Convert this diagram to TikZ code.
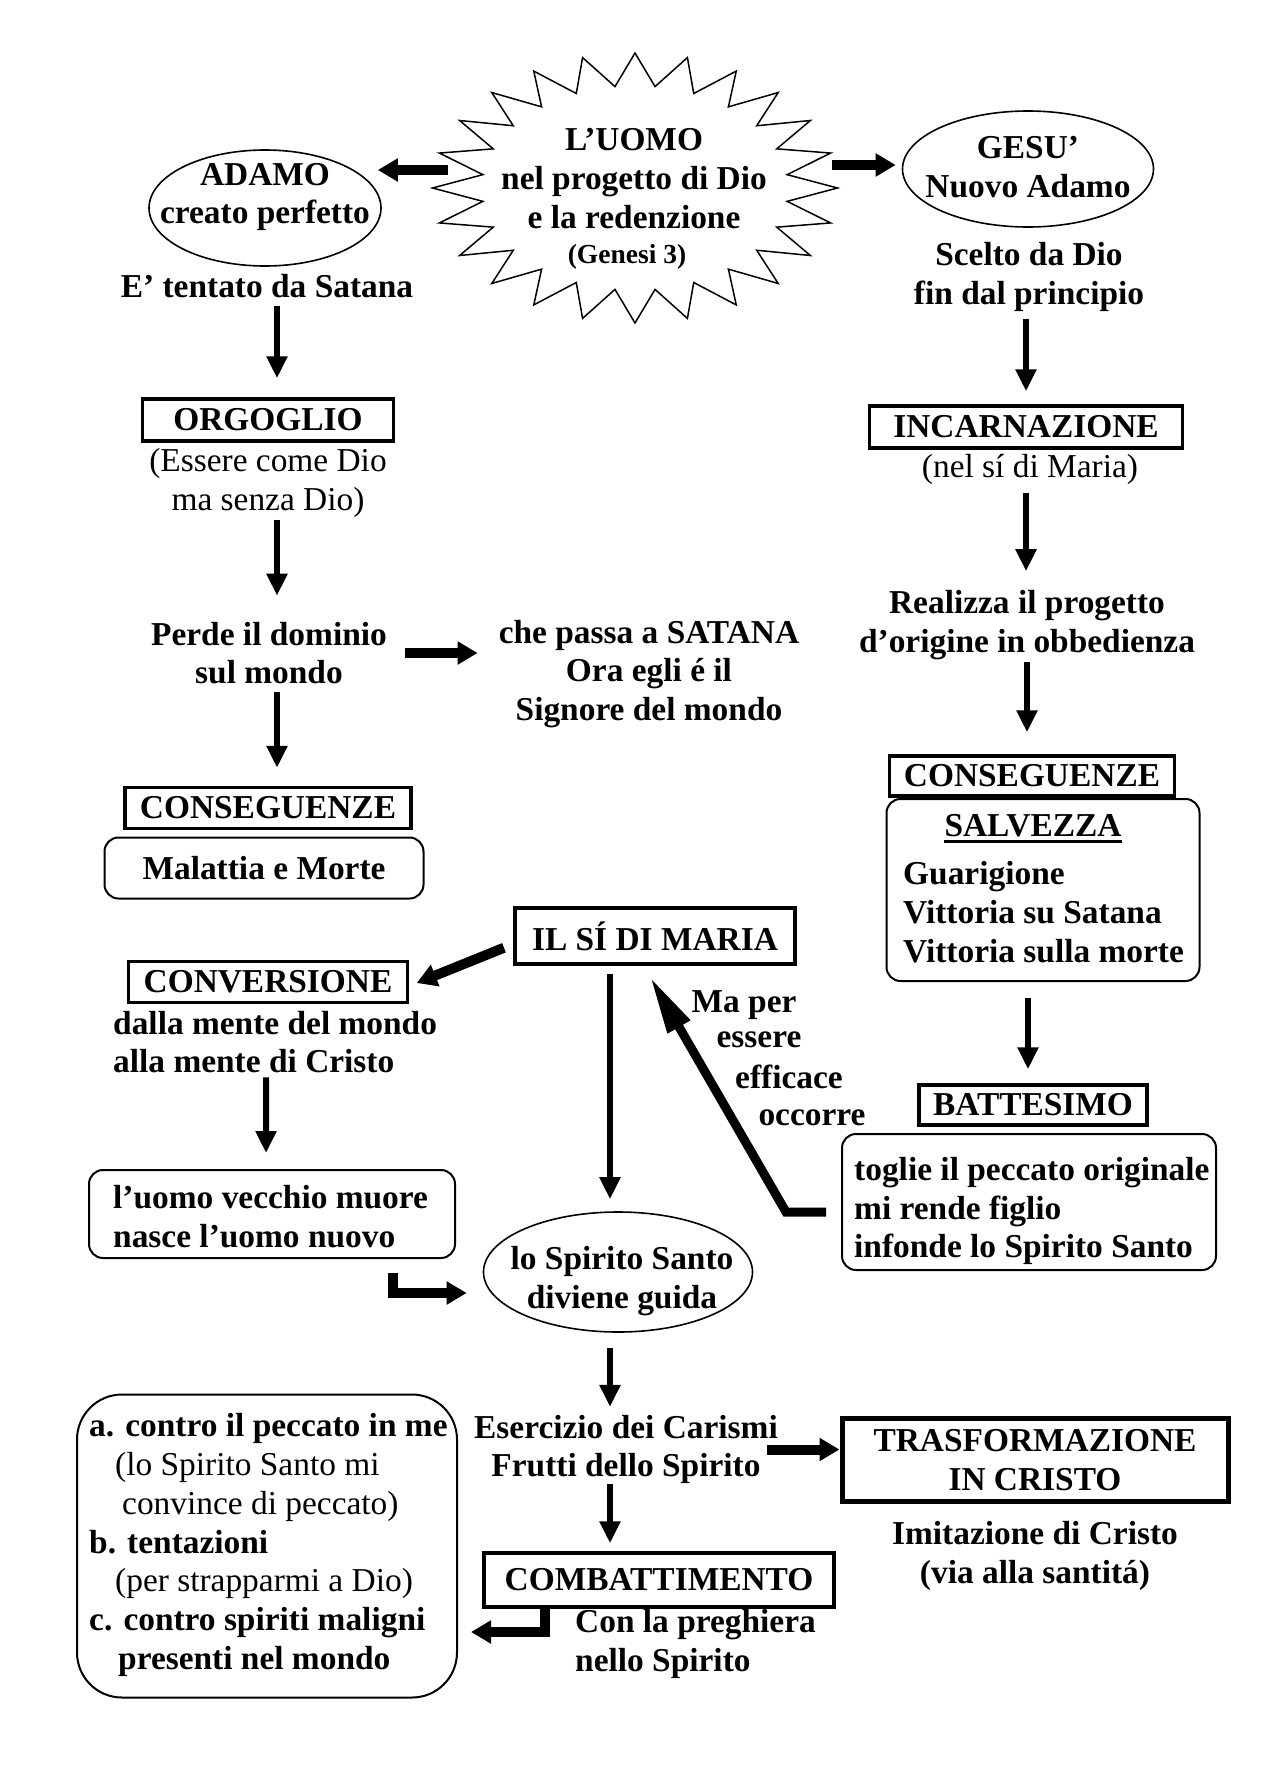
\documentclass[tikz,border=0pt]{standalone}
\usepackage{fontspec}
\setmainfont{Liberation Serif}
\usetikzlibrary{shapes.geometric, arrows.meta}

\begin{document}
\begin{tikzpicture}[x=1pt,y=-1pt,
	every node/.style={font=\fontsize{33.4}{38.7}\selectfont\bfseries, inner sep=0pt},
	reg/.style={font=\fontsize{33.4}{38.7}\selectfont},
	testo/.style={align=center},
	box/.style={draw, line width=3.5pt},
	rbox/.style={draw, line width=2pt, rounded corners=14pt},
	ell/.style={draw, ellipse, line width=1.6pt},
	arr/.style={line width=6pt, -{Triangle[width=20pt,length=22pt]}},
	fat/.style={line width=10pt, -{Triangle[width=22pt,length=20pt]}},
	bent/.style={line width=10pt, line join=miter, -{Triangle[width=22pt,length=20pt]}},
	maarr/.style={line width=9pt, line join=miter, -{Triangle[width=24pt,length=58pt]}}]
		\useasboundingbox (0,0) rectangle (1275,1775);
		\begin{scope}[shift={(635,188)}, xscale=1.5]
			\node[draw, star, star points=24, star point ratio=1.32, minimum size=270pt, line width=1.5pt, transform shape] (stella) at (0,0) {}; %星
		\end{scope}
		\node[testo] (uomo) at (634,178.5) {L’UOMO\\nel progetto di Dio\\e la redenzione};
		\node[font=\fontsize{27.5}{30}\selectfont\bfseries] (genesi) at (627,257) {(Genesi 3)};
		% sinistra
		\node[ell, minimum width=232pt, minimum height=116pt] (adamo) at (265,208) {};
		\node[testo] (adamot) at (265,197) {ADAMO\\creato perfetto};
		\node (tentato) at (267,286) {E’ tentato da Satana};
		\node[box, minimum width=251pt, minimum height=42pt] (orgoglio) at (268,420) {ORGOGLIO};
		\node[testo, reg] (essere) at (268,483) {(Essere come Dio\\ma senza Dio)};
		\node[testo] (perde) at (269,653) {Perde il dominio\\sul mondo};
		\node[testo] (satana) at (649,674) {che passa a SATANA\\Ora egli é il\\Signore del mondo};
		\node[box, minimum width=286pt, minimum height=41pt] (conseguL) at (268,808) {CONSEGUENZE};
		\node[rbox, minimum width=319pt, minimum height=61pt] (malattia) at (264,868) {Malattia e Morte};
		% destra
		\node[ell, minimum width=251pt, minimum height=116pt] (gesu) at (1028,169) {};
		\node[testo] (gesut) at (1028,167) {GESU’\\Nuovo Adamo};
		\node[testo] (scelto) at (1029,277) {Scelto da Dio\\fin dal principio};
		\node[box, minimum width=313pt, minimum height=42pt] (incarn) at (1026,427) {INCARNAZIONE};
		\node[reg] (nelsi) at (1030,469) {(nel sí di Maria)};
		\node[testo] (realizza) at (1027,625) {Realizza il progetto\\d’origine in obbedienza};
		\node[box, minimum width=285pt, minimum height=40pt] (conseguR) at (1032,776) {CONSEGUENZE};
		\node[rbox, minimum width=313pt, minimum height=182pt] (salvezza) at (1043,890) {};
		\node (salv) at (1033,826) {SALVEZZA};
		\draw[line width=3pt] ([yshift=-4pt]salv.south west) -- ([yshift=-4pt]salv.south east);
		\node[align=left, anchor=west] (salvlist) at (903,912) {Guarigione\\Vittoria su Satana\\Vittoria sulla morte};
		\node[box, minimum width=228pt, minimum height=40pt] (batt) at (1033,1105) {BATTESIMO};
		\node[rbox, minimum width=374pt, minimum height=136pt] (togli) at (1029,1202) {};
		\node[align=left, anchor=west] (toglit) at (854,1211) {toglie il peccato originale\\mi rende figlio\\infonde lo Spirito Santo};
		% centro
		\node[box, minimum width=280pt, minimum height=56pt] (ilsi) at (655,936) {IL SÍ DI MARIA};
		\node[box, minimum width=279pt, minimum height=41pt] (conv) at (268,982) {CONVERSIONE};
		\node[align=left, anchor=west] (dalla) at (113,1042) {dalla mente del mondo\\alla mente di Cristo};
		\node[rbox, minimum width=366pt, minimum height=88pt] (vecchio) at (272,1214) {};
		\node[align=left, anchor=west] (vecchiot) at (113,1216.5) {l’uomo vecchio muore\\nasce l’uomo nuovo};
		\node (maper) at (744,1005) {Ma per};
		\node (maess) at (759,1040) {essere};
		\node (maeff) at (789,1077) {efficace};
		\node (maocc) at (812,1118) {occorre};
		\node[ell, minimum width=269pt, minimum height=120pt] (spirito) at (618,1272) {};
		\node[testo] (spiritot) at (622,1281) {lo Spirito Santo\\diviene guida};
		\node[testo] (esercizio) at (626,1449.5) {Esercizio dei Carismi\\Frutti dello Spirito};
		\node[box, testo, line width=5pt, minimum width=386pt, minimum height=83pt] (trasf) at (1035,1460) {TRASFORMAZIONE\\IN CRISTO};
		\node[testo] (imitaz) at (1035,1556) {Imitazione di Cristo\\(via alla santitá)};
		\node[box, minimum width=350pt, minimum height=54pt] (combatt) at (659,1580) {COMBATTIMENTO};
		\node[align=left, anchor=west] (preghiera) at (575,1644) {Con la preghiera\\nello Spirito};
		\node[rbox, rounded corners=45pt, minimum width=380pt, minimum height=303pt] (lotta) at (267,1546) {};
		\node[align=left, anchor=west] (lottat) at (89,1545) {a. contro il peccato in me\\
			\hspace*{26pt}\mdseries (lo Spirito Santo mi\\
			\hspace*{33pt}\mdseries convince di peccato)\\
			\bfseries b. tentazioni\\
			\hspace*{26pt}\mdseries (per strapparmi a Dio)\\
			\bfseries c. contro spiriti maligni\\
			\hspace*{29pt}presenti nel mondo};
		% frecce
		\draw[fat] ([xshift=19pt,yshift=18pt]stella.west) -- ([xshift=-4pt,yshift=38pt]adamo.east);
		\draw[fat] ([xshift=-9pt,yshift=23pt]stella.east) -- ([xshift=-6pt,yshift=4pt]gesu.west);
		\draw[arr, shorten <=8pt, shorten >=19pt] ([xshift=10pt]tentato.south) -- ([xshift=9pt]orgoglio.north);
		\draw[arr, shorten <=2pt, shorten >=26pt] ([xshift=9pt]essere.south) -- ([xshift=8pt]perde.north);
		\draw[arr, shorten <=8pt, shorten >=18pt] ([xshift=8pt]perde.south) -- ([xshift=9pt]conseguL.north);
		\draw[fat, shorten <=18pt, shorten >=21pt] (perde.east) -- (perde.east -| satana.west);
		\draw[arr, shorten <=7pt, shorten >=13pt] ([xshift=-3pt]scelto.south) -- ([xshift=0pt]incarn.north);
		\draw[arr, shorten <=9pt, shorten >=19pt] ([xshift=-4pt]nelsi.south) -- ([xshift=-1pt]realizza.north);
		\draw[arr, shorten <=2pt, shorten >=22pt] ([xshift=0pt]realizza.south) -- ([xshift=-5pt]conseguR.north);
		\draw[arr, shorten <=16pt, shorten >=14pt] ([xshift=-15pt]salvezza.south) -- ([xshift=-5pt]batt.north);
		\draw[fat, shorten <=10pt, shorten >=8pt] ([yshift=-8pt]ilsi.west) -- ([yshift=-4pt]conv.east);
		\draw[arr, shorten <=4pt, shorten >=16pt] ([xshift=-9pt]dalla.south) -- ([xshift=-6pt]vecchio.north);
		\draw[bent] ([xshift=121pt,yshift=-14pt]vecchio.south) |- ([xshift=-16pt,yshift=-21pt]spirito.west);
		\draw[arr, shorten <=8pt, shorten >=12pt] ([xshift=-45pt]ilsi.south) -- ([xshift=-8pt]spirito.north);
		\draw[maarr] ([xshift=-15pt,yshift=-10pt]togli.west) -- ++(-40,0) -- ([xshift=-5pt,yshift=-11pt]ilsi.south);
		\draw[arr, shorten <=15pt, shorten >=8pt] ([xshift=-8pt]spirito.south) -- ([xshift=-16pt]esercizio.north);
		\draw[fat] ([xshift=-11pt]esercizio.east) -- (esercizio.east -| trasf.west);
		\draw[arr, shorten >=8pt] ([xshift=-16pt]esercizio.south) -- ([xshift=-49pt]combatt.north);
		\draw[bent] ([xshift=-114pt]combatt.south) |- ([xshift=13pt,yshift=-86pt]lotta.east);
	\end{tikzpicture}
\end{document}
